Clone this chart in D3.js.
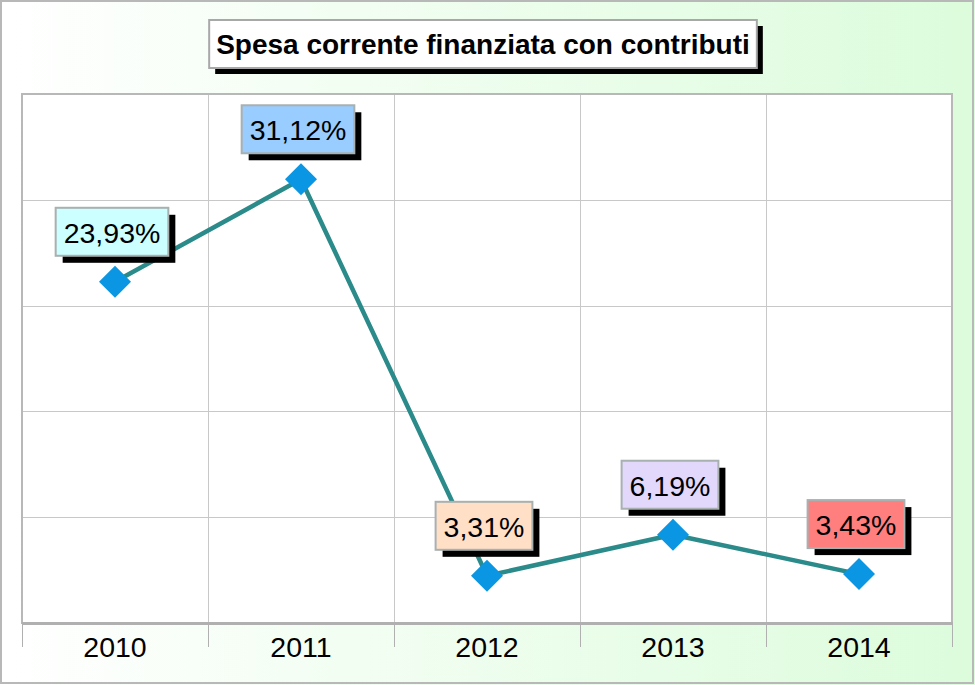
<!DOCTYPE html>
<html>
<head>
<meta charset="utf-8">
<script src="https://cdn.jsdelivr.net/npm/d3@7"></script>
<style>
  html, body { margin: 0; padding: 0; background: #fff; }
  svg { display: block; }
  text { font-family: Arial, "Liberation Sans", sans-serif; }
</style>
</head>
<body>
<svg id="chart" width="975" height="685"></svg>
<script>
const title = "Spesa corrente finanziata con contributi";
const years = ["2010", "2011", "2012", "2013", "2014"];
const values = [23.93, 31.12, 3.31, 6.19, 3.43];
const labels = ["23,93%", "31,12%", "3,31%", "6,19%", "3,43%"];
const labelColors = ["#ccffff", "#99ccff", "#ffdfc6", "#e2d8fc", "#ff7f7f"];
const yMax = 37.1;
const gridCount = 5;

const svg = d3.select("#chart");
const W = 975, H = 685;
const plot = { left: 22, right: 952, top: 94, bottom: 623 };

// background gradient
const defs = svg.append("defs");
const grad = defs.append("linearGradient").attr("id", "bg").attr("x1", "0").attr("x2", "1").attr("y1", "0").attr("y2", "0");
grad.append("stop").attr("offset", "0%").attr("stop-color", "#ffffff");
grad.append("stop").attr("offset", "100%").attr("stop-color", "#dcfcdc");
svg.append("rect").attr("x", 0).attr("y", 0).attr("width", W).attr("height", H).attr("fill", "url(#bg)");
svg.append("rect").attr("x", 1).attr("y", 1).attr("width", W - 3).attr("height", H - 3)
  .attr("fill", "none").attr("stroke", "#b8b8b8").attr("stroke-width", 2);

const x = d3.scaleBand().domain(years).range([plot.left, plot.right]);
const y = d3.scaleLinear().domain([0, yMax]).range([plot.bottom, plot.top]);

// plot area
svg.append("rect").attr("x", plot.left).attr("y", plot.top)
  .attr("width", plot.right - plot.left).attr("height", plot.bottom - plot.top)
  .attr("fill", "#ffffff");

// horizontal gridlines
const gridVals = d3.range(1, gridCount).map(i => yMax * i / gridCount);
svg.append("g").selectAll("line").data(gridVals).join("line")
  .attr("x1", plot.left).attr("x2", plot.right)
  .attr("y1", d => Math.round(y(d)) + 0.5).attr("y2", d => Math.round(y(d)) + 0.5)
  .attr("stroke", "#c8c8c8").attr("stroke-width", 1);

// vertical gridlines (category boundaries) + ticks
const bounds = years.map(d => x(d)).concat([plot.right]);
svg.append("g").selectAll("line").data(bounds.slice(1, -1)).join("line")
  .attr("x1", d => Math.round(d) + 0.5).attr("x2", d => Math.round(d) + 0.5)
  .attr("y1", plot.top).attr("y2", plot.bottom)
  .attr("stroke", "#c8c8c8").attr("stroke-width", 1);
svg.append("g").selectAll("line").data(bounds).join("line")
  .attr("x1", d => Math.round(d) + 0.5).attr("x2", d => Math.round(d) + 0.5)
  .attr("y1", plot.bottom).attr("y2", plot.bottom + 24)
  .attr("stroke", "#b0b0b0").attr("stroke-width", 1);

// plot border
svg.append("rect").attr("x", plot.left).attr("y", plot.top)
  .attr("width", plot.right - plot.left).attr("height", plot.bottom - plot.top)
  .attr("fill", "none").attr("stroke", "#b8b8b8").attr("stroke-width", 2);
svg.append("line").attr("x1", plot.left).attr("x2", plot.right + 1)
  .attr("y1", plot.bottom + 0.5).attr("y2", plot.bottom + 0.5)
  .attr("stroke", "#b0b0b0").attr("stroke-width", 3);

// axis labels
svg.append("g").selectAll("text").data(years).join("text")
  .attr("x", d => x(d) + x.bandwidth() / 2).attr("y", 657)
  .attr("text-anchor", "middle").attr("font-size", 28.5).attr("fill", "#000")
  .text(d => d);

// line
const cx = d => x(d) + x.bandwidth() / 2;
const pts = years.map((d, i) => [cx(d), y(values[i])]);
svg.append("path").datum(pts)
  .attr("d", d3.line())
  .attr("fill", "none").attr("stroke", "#2b8a8a").attr("stroke-width", 4.5)
  .attr("stroke-linejoin", "round");

// markers
const sq = d3.symbol().type(d3.symbolSquare).size(512);
svg.append("g").selectAll("path").data(pts).join("path")
  .attr("d", sq())
  .attr("transform", d => `translate(${d[0]},${d[1]}) rotate(45)`)
  .attr("fill", "#0a96e2");

// data labels
const lg = svg.append("g");
years.forEach((yr, i) => {
  const px = pts[i][0], py = pts[i][1];
  const g = lg.append("g");
  const t = g.append("text").attr("font-size", 28.5).attr("text-anchor", "middle").text(labels[i]);
  const tw = t.node().getComputedTextLength();
  const bw = tw + 16, bh = 48;
  const bx = px - 3 - bw / 2, by = py - 26 - bh;
  g.insert("rect", "text").attr("x", bx + 7).attr("y", by + 7).attr("width", bw).attr("height", bh).attr("fill", "#000");
  g.insert("rect", "text").attr("x", bx).attr("y", by).attr("width", bw).attr("height", bh)
    .attr("fill", labelColors[i]).attr("stroke", "#a8b0b0").attr("stroke-width", 2);
  t.attr("x", bx + bw / 2).attr("y", by + 35).attr("fill", "#000");
});

// title
const tg = svg.append("g");
const tt = tg.append("text").attr("font-size", 28).attr("font-weight", "bold")
  .attr("text-anchor", "middle").attr("x", 483).attr("y", 54).attr("fill", "#000").text(title);
const ttw = tt.node().getComputedTextLength();
const tbw = ttw + 14, tbx = 483 - tbw / 2;
tg.insert("rect", "text").attr("x", tbx + 6).attr("y", 26).attr("width", tbw).attr("height", 48).attr("fill", "#000");
tg.insert("rect", "text").attr("x", tbx).attr("y", 20).attr("width", tbw).attr("height", 48)
  .attr("fill", "#fff").attr("stroke", "#a8a8a8").attr("stroke-width", 2);
</script>
</body>
</html>
